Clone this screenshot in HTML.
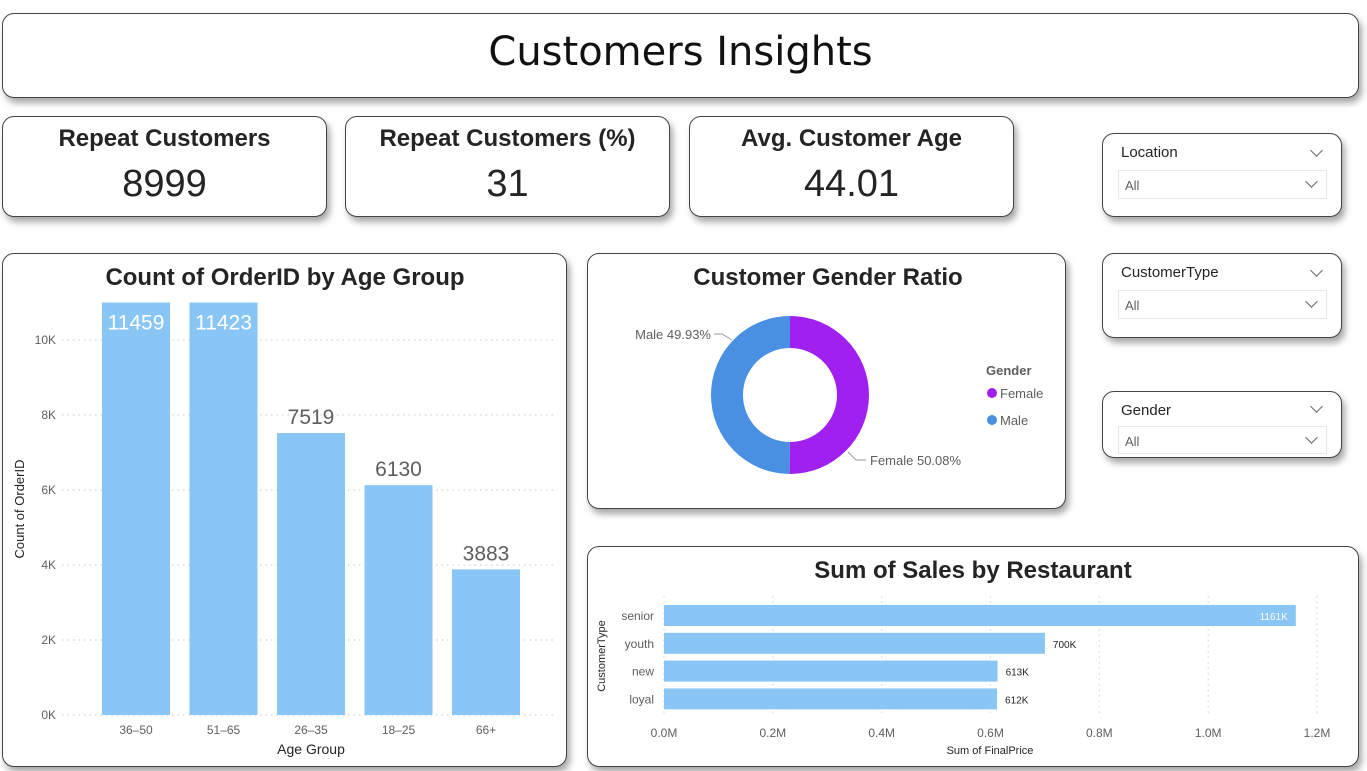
<!DOCTYPE html>
<html><head><meta charset="utf-8">
<style>
body{margin:0;width:1367px;height:771px;background:#fff;position:relative;overflow:hidden;font-family:"Liberation Sans","DejaVu Sans",sans-serif;}
.card{position:absolute;box-sizing:border-box;border:1.3px solid #444;border-radius:12px;background:#fff;box-shadow:3px 5px 7px rgba(0,0,0,0.35);}
.kt{position:absolute;left:0;right:0;top:8px;text-align:center;font-weight:bold;font-size:24px;color:#252423;}
.kv{position:absolute;left:0;right:0;top:46px;text-align:center;font-size:38px;color:#252423;}
.sl-t{position:absolute;left:18px;top:10px;font-size:15px;color:#252423;}
.chev{position:absolute;width:8px;height:8px;border-right:1.3px solid #666;border-bottom:1.3px solid #666;transform:rotate(45deg);}
.sl-box{position:absolute;left:15px;right:14px;top:36px;height:29px;border:1px solid #e8e8e8;box-sizing:border-box;}
.sl-v{position:absolute;left:6px;top:7px;font-size:13px;color:#605e5c;}
svg{position:absolute;left:0;top:0;}
</style></head><body>
<div class="card" style="left:2px;top:13px;width:1357px;height:85px;">
<div style="position:absolute;left:0;right:0;top:15px;text-align:center;font-family:'Comic Sans MS','DejaVu Sans',sans-serif;font-size:40px;color:#111;">Customers Insights</div></div>

<div class="card" style="left:2px;top:116px;width:325px;height:101px;"><div class="kt">Repeat Customers</div><div class="kv">8999</div></div>
<div class="card" style="left:345px;top:116px;width:325px;height:101px;"><div class="kt">Repeat Customers (%)</div><div class="kv">31</div></div>
<div class="card" style="left:689px;top:116px;width:325px;height:101px;"><div class="kt">Avg. Customer Age</div><div class="kv">44.01</div></div>

<div class="card" style="left:1102px;top:133px;width:240px;height:84px;"><div class="sl-t">Location</div><div class="chev" style="right:20px;top:12px"></div><div class="sl-box"><div class="sl-v">All</div><div class="chev" style="right:10px;top:6px"></div></div></div>
<div class="card" style="left:1102px;top:253px;width:240px;height:85px;"><div class="sl-t">CustomerType</div><div class="chev" style="right:20px;top:12px"></div><div class="sl-box"><div class="sl-v">All</div><div class="chev" style="right:10px;top:6px"></div></div></div>
<div class="card" style="left:1102px;top:391px;width:240px;height:67px;"><div class="sl-t" style="top:10px">Gender</div><div class="chev" style="right:20px;top:10px"></div><div class="sl-box" style="top:34px;height:28px"><div class="sl-v">All</div><div class="chev" style="right:10px;top:6px"></div></div></div>

<div class="card" style="left:2px;top:253px;width:565px;height:514px;"></div>
<div class="card" style="left:587px;top:253px;width:479px;height:256px;"></div>
<div class="card" style="left:587px;top:546px;width:772px;height:221px;"></div>

<svg id="s" width="1367" height="771" font-family="Liberation Sans, DejaVu Sans, sans-serif"></svg>
<script>
const ageCats=["36–50","51–65","26–35","18–25","66+"];
const ageVals=[11459,11423,7519,6130,3883];
const ageTicks=[0,2000,4000,6000,8000,10000];
const ageTickLabels=["0K","2K","4K","6K","8K","10K"];
const genderCats=["Female","Male"];
const genderVals=[50.08,49.93];
const restCats=["senior","youth","new","loyal"];
const restVals=[1161,700,613,612];
const restLabels=["1161K","700K","613K","612K"];
const restTicks=[0,0.2,0.4,0.6,0.8,1.0,1.2];
const restTickLabels=["0.0M","0.2M","0.4M","0.6M","0.8M","1.0M","1.2M"];

const s=document.getElementById('s');const NS="http://www.w3.org/2000/svg";
function el(t,a,txt){const e=document.createElementNS(NS,t);for(const k in a)e.setAttribute(k,a[k]);if(txt!==undefined)e.textContent=txt;s.appendChild(e);return e;}
function tx(x,y,t,size,fill,anchor,w){return el('text',{x:x,y:y,'font-size':size,fill:fill,'text-anchor':anchor||'start','font-weight':w||'normal'},t);}
let e;
// Age chart
e=tx(285,285,"Count of OrderID by Age Group",24,"#252423","middle","bold");


const yMax=11000,y0=715,y1=302.5;
const ys=v=>y0-(Math.min(v,yMax)/yMax)*(y0-y1);
const bx=i=>102+i*87.5;
ageTicks.forEach((t,i)=>{
 e=el('line',{x1:62,x2:557,y1:ys(t),y2:ys(t),stroke:"#c8c8c8","stroke-dasharray":"1.5,4"});
 
 
 e=tx(56,ys(t)+4,ageTickLabels[i],12,"#605e5c","end");
 
 
});
ageVals.forEach((v,i)=>{
 e=el('rect',{x:bx(i),y:ys(v),width:68,height:y0-ys(v),fill:"#8AC6F5"});
 
 
 const inside=v>yMax;
 e=tx(bx(i)+34,inside?ys(v)+27:ys(v)-9,String(v),21,inside?"#fff":"#605e5c","middle");
 
 
 e=tx(bx(i)+34,734,ageCats[i],12,"#605e5c","middle");
 
 
});
e=tx(311,754,"Age Group",14,"#252423","middle");


e=tx(0,0,"Count of OrderID",13,"#252423","middle");
e.setAttribute('transform','translate(24,509) rotate(-90)');



// Donut
e=tx(828,285,"Customer Gender Ratio",24,"#252423","middle","bold");


const cx=790,cy=395,R=79,r=47,cols=["#A020F0","#4A90E2"];
const tot=genderVals.reduce((a,b)=>a+b,0);let ang=0;
genderVals.forEach((v,i)=>{
 const a0=ang,a1=ang+v/tot*2*Math.PI;ang=a1;
 const p=(a,rr)=>[cx+rr*Math.sin(a),cy-rr*Math.cos(a)];
 const [x0,y0_]=p(a0,R),[x1,y1_]=p(a1,R),[x2,y2]=p(a1,r),[x3,y3]=p(a0,r);
 const lg=(a1-a0)>Math.PI?1:0;
 e=el('path',{d:`M${x0},${y0_}A${R},${R} 0 ${lg} 1 ${x1},${y1_}L${x2},${y2}A${r},${r} 0 ${lg} 0 ${x3},${y3}Z`,fill:cols[i]});
 
 
});
el('polyline',{points:"848,452 856,460 866,460",fill:"none",stroke:"#999"});
el('polyline',{points:"732,340 722,334 714,334",fill:"none",stroke:"#999"});
e=tx(870,465,"Female "+genderVals[0].toFixed(2)+"%",13,"#605e5c");


e=tx(711,339,"Male "+genderVals[1].toFixed(2)+"%",13,"#605e5c","end");


e=tx(986,375,"Gender",13,"#605e5c","start","bold");


genderCats.forEach((g,i)=>{
 e=el('circle',{cx:992,cy:393+i*27,r:5,fill:cols[i]});
 
 
 e=tx(1000,398+i*27,g,13,"#605e5c");
 
 
});

// Horizontal bars
e=tx(973,578,"Sum of Sales by Restaurant",24,"#252423","middle","bold");


const xs=v=>664+v/1.2*(1317-664);
restTicks.forEach((t,i)=>{
 e=el('line',{x1:xs(t),x2:xs(t),y1:596,y2:714,stroke:"#d0d0d0","stroke-dasharray":"1.5,4"});
 
 
 e=tx(xs(t),737,restTickLabels[i],12,"#605e5c","middle");
 
 
});
restVals.forEach((v,i)=>{
 const y=605+i*27.8;
 e=el('rect',{x:664,y:y,width:xs(v/1000)-664,height:21,fill:"#8AC6F5"});
 
 
 const w=xs(v/1000)-664;
 if(w>500){e=tx(xs(v/1000)-8,y+15,restLabels[i],10,"#fff","end");}
 else{e=tx(xs(v/1000)+8,y+15,restLabels[i],10,"#252423");}
 
 
 e=tx(654,y+15,restCats[i],12,"#605e5c","end");
 
 
});
e=tx(990,754,"Sum of FinalPrice",11,"#252423","middle");


e=tx(0,0,"CustomerType",11,"#252423","middle");
e.setAttribute('transform','translate(605,656) rotate(-90)');


</script>
</body></html>
